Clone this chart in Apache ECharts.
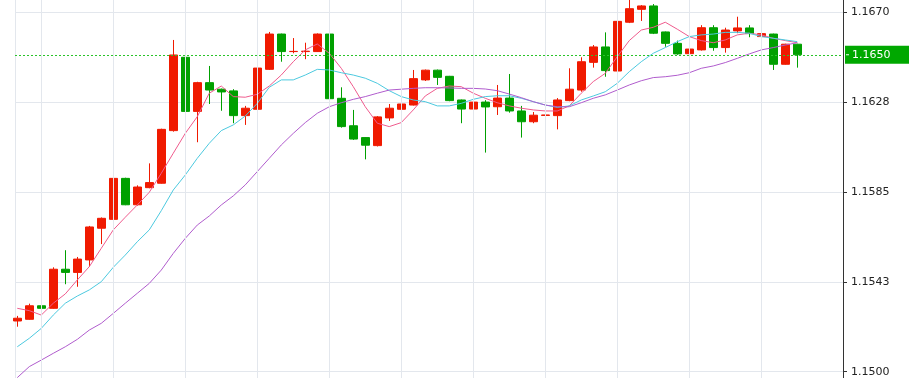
<!DOCTYPE html>
<html>
<head>
<meta charset="utf-8">
<script src="https://cdn.jsdelivr.net/npm/echarts@6/dist/echarts.min.js"></script>
<style>
html, body { margin: 0; padding: 0; background: #fff; }
#kline { width: 909px; height: 378px; }
</style>
</head>
<body>
<div id="kline"></div>
<script>
// candle values, one entry per bar
var opens = [1.15240, 1.15248, 1.15312, 1.15300, 1.15485, 1.15470, 1.15529, 1.15679, 1.15721, 1.15915,
    1.15790, 1.15871, 1.15892, 1.16141, 1.16488, 1.16232, 1.16368, 1.16337, 1.16329, 1.16212,
    1.16242, 1.16431, 1.16598, 1.16515, 1.16515, 1.16515, 1.16598, 1.16294, 1.16164, 1.16108,
    1.16070, 1.16201, 1.16242, 1.16262, 1.16381, 1.16427, 1.16398, 1.16286, 1.16243, 1.16276,
    1.16254, 1.16295, 1.16234, 1.16183, 1.16213, 1.16212, 1.16283, 1.16333, 1.16464, 1.16537,
    1.16423, 1.16654, 1.16715, 1.16731, 1.16608, 1.16554, 1.16505, 1.16523, 1.16628, 1.16534,
    1.16613, 1.16627, 1.16586, 1.16598, 1.16455, 1.16550];
var closes = [1.15253, 1.15312, 1.15300, 1.15485, 1.15470, 1.15533, 1.15685, 1.15726, 1.15915, 1.15790,
    1.15874, 1.15895, 1.16147, 1.16499, 1.16232, 1.16368, 1.16333, 1.16324, 1.16212, 1.16247,
    1.16437, 1.16598, 1.16515, 1.16516, 1.16517, 1.16598, 1.16292, 1.16160, 1.16101, 1.16072,
    1.16206, 1.16247, 1.16267, 1.16387, 1.16427, 1.16393, 1.16283, 1.16243, 1.16276, 1.16253,
    1.16295, 1.16234, 1.16183, 1.16214, 1.16215, 1.16286, 1.16337, 1.16467, 1.16537, 1.16425,
    1.16658, 1.16718, 1.16731, 1.16602, 1.16554, 1.16504, 1.16527, 1.16628, 1.16534, 1.16617,
    1.16627, 1.16600, 1.16600, 1.16455, 1.16550, 1.16500];
var lows = [1.15213, 1.15246, 1.15298, 1.15298, 1.15414, 1.15402, 1.15497, 1.15604, 1.15718, 1.15788,
    1.15786, 1.15868, 1.15890, 1.16136, 1.15931, 1.16086, 1.16267, 1.16235, 1.16176, 1.16168,
    1.16238, 1.16428, 1.16467, 1.16507, 1.16479, 1.16513, 1.16290, 1.16155, 1.16097, 1.16005,
    1.16066, 1.16187, 1.16207, 1.16260, 1.16376, 1.16357, 1.16280, 1.16176, 1.16157, 1.16037,
    1.16215, 1.16226, 1.16108, 1.16176, 1.16207, 1.16147, 1.16280, 1.16325, 1.16439, 1.16396,
    1.16417, 1.16650, 1.16660, 1.16598, 1.16538, 1.16500, 1.16467, 1.16520, 1.16519, 1.16510,
    1.16602, 1.16583, 1.16538, 1.16428, 1.16453, 1.16439];
var highs = [1.15264, 1.15322, 1.15363, 1.15494, 1.15575, 1.15543, 1.15690, 1.15730, 1.15926, 1.15918,
    1.15882, 1.15986, 1.16150, 1.16570, 1.16504, 1.16372, 1.16447, 1.16340, 1.16337, 1.16258,
    1.16440, 1.16608, 1.16600, 1.16579, 1.16557, 1.16601, 1.16608, 1.16346, 1.16239, 1.16110,
    1.16210, 1.16267, 1.16276, 1.16428, 1.16430, 1.16430, 1.16400, 1.16288, 1.16279, 1.16285,
    1.16357, 1.16409, 1.16258, 1.16229, 1.16254, 1.16295, 1.16436, 1.16488, 1.16546, 1.16606,
    1.16662, 1.16760, 1.16735, 1.16740, 1.16610, 1.16567, 1.16530, 1.16640, 1.16640, 1.16628,
    1.16680, 1.16640, 1.16603, 1.16600, 1.16552, 1.16552];

// moving averages as drawn
var ma5 = [1.15300, 1.15289, 1.15268, 1.15324, 1.15368, 1.15434, 1.15497, 1.15584, 1.15671, 1.15731,
    1.15789, 1.15849, 1.15939, 1.16034, 1.16128, 1.16207, 1.16318, 1.16352, 1.16302, 1.16299,
    1.16313, 1.16352, 1.16404, 1.16467, 1.16523, 1.16551, 1.16507, 1.16436, 1.16349, 1.16254,
    1.16176, 1.16160, 1.16179, 1.16239, 1.16305, 1.16341, 1.16352, 1.16349, 1.16318, 1.16294,
    1.16273, 1.16258, 1.16247, 1.16239, 1.16234, 1.16234, 1.16258, 1.16318, 1.16373, 1.16412,
    1.16491, 1.16567, 1.16617, 1.16630, 1.16654, 1.16621, 1.16586, 1.16567, 1.16557, 1.16570,
    1.16594, 1.16602, 1.16594, 1.16578, 1.16567, 1.16557];
var ma10 = [1.15118, 1.15158, 1.15205, 1.15268, 1.15324, 1.15358, 1.15387, 1.15426, 1.15494, 1.15552,
    1.15615, 1.15671, 1.15762, 1.15860, 1.15931, 1.16010, 1.16081, 1.16141, 1.16168, 1.16210,
    1.16270, 1.16346, 1.16381, 1.16381, 1.16404, 1.16431, 1.16428, 1.16415, 1.16404, 1.16389,
    1.16365, 1.16330, 1.16302, 1.16286, 1.16278, 1.16258, 1.16258, 1.16270, 1.16289, 1.16302,
    1.16306, 1.16306, 1.16294, 1.16278, 1.16262, 1.16251, 1.16258, 1.16286, 1.16305, 1.16325,
    1.16365, 1.16420, 1.16467, 1.16507, 1.16534, 1.16562, 1.16586, 1.16594, 1.16598, 1.16606,
    1.16606, 1.16602, 1.16586, 1.16578, 1.16570, 1.16562];
var ma20 = [1.14972, 1.15024, 1.15055, 1.15087, 1.15118, 1.15153, 1.15197, 1.15229, 1.15276, 1.15324,
    1.15371, 1.15418, 1.15481, 1.15560, 1.15631, 1.15694, 1.15737, 1.15789, 1.15832, 1.15884,
    1.15947, 1.16010, 1.16073, 1.16128, 1.16179, 1.16223, 1.16254, 1.16273, 1.16289, 1.16302,
    1.16318, 1.16333, 1.16337, 1.16341, 1.16344, 1.16344, 1.16343, 1.16341, 1.16341, 1.16338,
    1.16330, 1.16314, 1.16297, 1.16278, 1.16262, 1.16254, 1.16254, 1.16273, 1.16294, 1.16310,
    1.16333, 1.16357, 1.16377, 1.16392, 1.16396, 1.16403, 1.16415, 1.16436, 1.16447, 1.16463,
    1.16483, 1.16504, 1.16523, 1.16534, 1.16546, 1.16557];

var lastPrice = 1.1650;
// bars that carry a vertical grid line
var gridBars = [2, 8, 14, 20, 26, 32, 38, 44, 50, 56, 62];

var upColor = '#f01a00';
var downColor = '#00a000';
var gridColor = '#e3e7ed';

function getCandles() {
    var list = [];
    for (var i = 0; i < opens.length; i++) {
        list.push([i, opens[i], closes[i], lows[i], highs[i]]);
    }
    return list;
}
function getLine(values) {
    var list = [];
    for (var i = 0; i < values.length; i++) {
        list.push([i, values[i]]);
    }
    return list;
}
function maSeries(name, values, color) {
    return {
        name: name,
        type: 'line',
        data: getLine(values),
        showSymbol: false,
        symbol: 'none',
        silent: true,
        z: 3,
        lineStyle: { color: color, width: 1 }
    };
}

var chart = echarts.init(document.getElementById('kline'));
chart.setOption({
    animation: false,
    grid: { left: 15, right: 66, top: -77.3, bottom: -83.5, outerBoundsMode: 'none', containLabel: false },
    xAxis: {
        type: 'value',
        min: -0.19,
        max: 68.81,
        interval: 100,
        axisLine: { show: false, onZero: false },
        axisTick: { show: false },
        axisLabel: { show: false },
        splitLine: { show: true, showMaxLine: false, lineStyle: { color: gridColor } }
    },
    yAxis: {
        type: 'value',
        position: 'right',
        min: 1.14575,
        max: 1.17125,
        interval: 0.00425,
        axisLine: { show: true, onZero: false, lineStyle: { color: '#333' } },
        axisTick: { show: true, length: 4, lineStyle: { color: '#333' } },
        axisLabel: {
            margin: 8,
            color: '#222',
            fontFamily: 'DejaVu Sans',
            fontSize: 11,
            formatter: function (v) { return (v + 1e-7).toFixed(4); }
        },
        splitLine: { show: true, lineStyle: { color: gridColor } }
    },
    series: [
        {
            name: 'grid',
            type: 'line',
            data: [],
            z: 1,
            silent: true,
            markLine: {
                silent: true,
                symbol: ['none', 'none'],
                label: { show: false },
                lineStyle: { color: gridColor, type: 'solid', width: 1 },
                data: gridBars.map(function (b) { return { xAxis: b }; })
            }
        },
        {
            name: 'EURUSD',
            type: 'candlestick',
            data: getCandles(),
            barWidth: 9,
            z: 2,
            itemStyle: {
                color: upColor,
                color0: downColor,
                borderColor: upColor,
                borderColor0: downColor,
                borderWidth: 1
            },
            markLine: {
                silent: true,
                precision: 4,
                symbol: ['none', 'none'],
                lineStyle: { color: '#2ac42a', type: [2, 2], width: 1 },
                label: {
                    position: 'end',
                    distance: 2,
                    formatter: function (p) { return '{t|}{v|' + Number(p.value).toFixed(4) + '}'; },
                    backgroundColor: '#00a800',
                    padding: [3, 20, 3, 1],
                    rich: {
                        t: { width: 3, height: 1, backgroundColor: '#fff' },
                        v: {
                            color: '#fff',
                            fontFamily: 'DejaVu Sans',
                            fontSize: 11,
                            lineHeight: 12,
                            padding: [0, 0, 0, 3]
                        }
                    }
                },
                data: [{ yAxis: lastPrice }]
            }
        },
        maSeries('MA5', ma5, '#ef5b8d'),
        maSeries('MA10', ma10, '#4cc9df'),
        maSeries('MA20', ma20, '#b05ccd')
    ]
});
window.addEventListener('resize', function () {
    chart.resize();
});
</script>
</body>
</html>
